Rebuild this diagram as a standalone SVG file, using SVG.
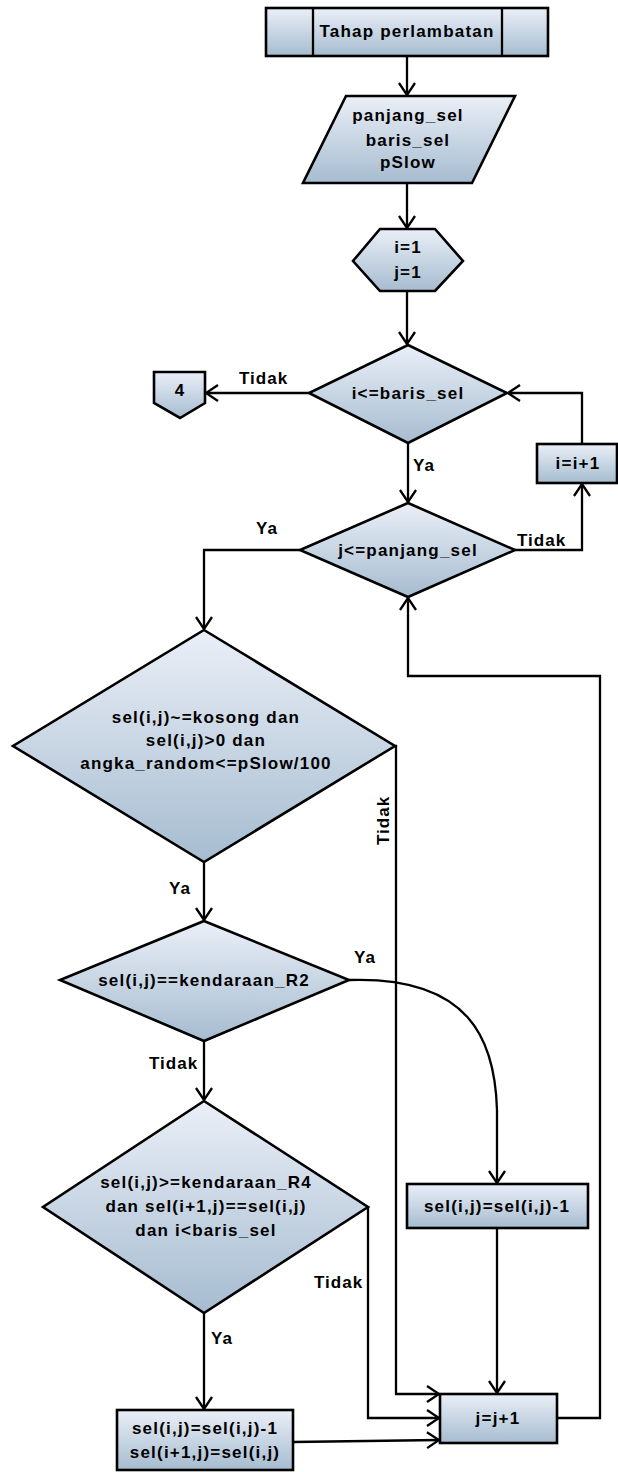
<svg xmlns="http://www.w3.org/2000/svg" width="618" height="1472" viewBox="0 0 618 1472">
  <style>
    .shape { fill: url(#fillGrad); stroke: #000; stroke-width: 2.6; }
    .line { fill: none; stroke: #000; stroke-width: 2.3; }
    .lbl { font-family: "Liberation Sans", Arial, sans-serif; font-weight: bold; font-size: 17px; letter-spacing: 1.2px; fill: #000; text-anchor: middle; }
    .tag { font-family: "Liberation Sans", Arial, sans-serif; font-weight: bold; font-size: 17px; letter-spacing: 1px; fill: #000; }
  </style>
  <defs>
    <linearGradient id="fillGrad" x1="0" y1="0" x2="0" y2="1">
      <stop offset="0" stop-color="#eaeff7"/>
      <stop offset="1" stop-color="#a6bcd0"/>
    </linearGradient>
    <marker id="arrow" viewBox="-14 -10 16 20" refX="0" refY="0" markerWidth="16" markerHeight="20" markerUnits="userSpaceOnUse" orient="auto">
      <path d="M-12,-8 L0,0 L-12,8" fill="none" stroke="#000" stroke-width="2.3"/>
    </marker>
  </defs>

  <rect width="618" height="1472" fill="#fff"/>

  <!-- connectors -->
  <g id="connectors">
    <path class="line" d="M407,56 L407,95" marker-end="url(#arrow)"/>
    <path class="line" d="M407,183 L407,228" marker-end="url(#arrow)"/>
    <path class="line" d="M407,291 L407,344" marker-end="url(#arrow)"/>
    <path class="line" d="M309,393 L206,393" marker-end="url(#arrow)"/>
    <path class="line" d="M408,443 L408,502" marker-end="url(#arrow)"/>
    <path class="line" d="M582,444 L582,393 L508,393" marker-end="url(#arrow)"/>
    <path class="line" d="M515,550 L582,550 L582,484" marker-end="url(#arrow)"/>
    <path class="line" d="M300,550 L204,550 L204,629" marker-end="url(#arrow)"/>
    <path class="line" d="M204,862 L204,920" marker-end="url(#arrow)"/>
    <path class="line" d="M395,746 L396,746 L396,1394 L439,1394" marker-end="url(#arrow)"/>
    <path class="line" d="M349,980 C470,976 495,1040 497,1110 L497,1183" marker-end="url(#arrow)"/>
    <path class="line" d="M204,1041 L204,1100" marker-end="url(#arrow)"/>
    <path class="line" d="M368,1207 L368,1418 L439,1418" marker-end="url(#arrow)"/>
    <path class="line" d="M497,1228 L497,1393" marker-end="url(#arrow)"/>
    <path class="line" d="M204,1313 L204,1409" marker-end="url(#arrow)"/>
    <path class="line" d="M293,1442 L439,1440" marker-end="url(#arrow)"/>
    <path class="line" d="M557,1418 L600,1418 L600,676 L408,676 L408,598" marker-end="url(#arrow)"/>

    <text class="tag" x="239" y="384">Tidak</text>
    <text class="tag" x="413" y="471">Ya</text>
    <text class="tag" x="517" y="546">Tidak</text>
    <text class="tag" x="256" y="534">Ya</text>
    <text class="tag" x="389" y="845" transform="rotate(-90 389 845)">Tidak</text>
    <text class="tag" x="169" y="894">Ya</text>
    <text class="tag" x="354" y="963">Ya</text>
    <text class="tag" x="149" y="1069">Tidak</text>
    <text class="tag" x="314" y="1288">Tidak</text>
    <text class="tag" x="211" y="1344">Ya</text>
  </g>

  <!-- start: predefined process -->
  <g id="start">
    <rect class="shape" x="266" y="8" width="282" height="48"/>
    <line class="line" x1="313" y1="8" x2="313" y2="56" stroke-width="2.6"/>
    <line class="line" x1="502" y1="8" x2="502" y2="56" stroke-width="2.6"/>
    <text class="lbl" x="407" y="37">Tahap perlambatan</text>
  </g>

  <!-- input parameters -->
  <g id="input">
    <polygon class="shape" points="346,96 515,96 472,183 303,183"/>
    <text class="lbl" x="408" y="121">panjang_sel</text>
    <text class="lbl" x="408" y="146">baris_sel</text>
    <text class="lbl" x="408" y="168">pSlow</text>
  </g>

  <!-- initialisation -->
  <g id="init">
    <polygon class="shape" points="380,229 435,229 463,261 435,291 380,291 353,261"/>
    <text class="lbl" x="408" y="253">i=1</text>
    <text class="lbl" x="408" y="278">j=1</text>
  </g>

  <!-- row loop check -->
  <g id="check-i">
    <polygon class="shape" points="408,345 507,393 408,443 309,393"/>
    <text class="lbl" x="408" y="399">i&lt;=baris_sel</text>
  </g>

  <!-- off-page connector -->
  <g id="connector-4">
    <polygon class="shape" points="154,372 205,372 205,403 180,418 154,403"/>
    <text class="lbl" x="180" y="396">4</text>
  </g>

  <!-- row increment -->
  <g id="inc-i">
    <rect class="shape" x="537" y="444" width="80" height="39"/>
    <text class="lbl" x="578" y="469">i=i+1</text>
  </g>

  <!-- column loop check -->
  <g id="check-j">
    <polygon class="shape" points="408,503 515,550 408,597 300,550"/>
    <text class="lbl" x="408" y="556">j&lt;=panjang_sel</text>
  </g>

  <!-- slowdown condition -->
  <g id="check-slow">
    <polygon class="shape" points="204,630 395,746 204,862 13,746"/>
    <text class="lbl" x="206" y="723">sel(i,j)~=kosong dan</text>
    <text class="lbl" x="206" y="746">sel(i,j)&gt;0 dan</text>
    <text class="lbl" x="206" y="769">angka_random&lt;=pSlow/100</text>
  </g>

  <!-- vehicle type R2 check -->
  <g id="check-r2">
    <polygon class="shape" points="204,921 349,980 204,1041 60,980"/>
    <text class="lbl" x="204" y="986">sel(i,j)==kendaraan_R2</text>
  </g>

  <!-- vehicle type R4 check -->
  <g id="check-r4">
    <polygon class="shape" points="204,1101 368,1207 204,1313 43,1207"/>
    <text class="lbl" x="206" y="1188">sel(i,j)&gt;=kendaraan_R4</text>
    <text class="lbl" x="206" y="1212">dan sel(i+1,j)==sel(i,j)</text>
    <text class="lbl" x="206" y="1236">dan i&lt;baris_sel</text>
  </g>

  <!-- single-cell decrement -->
  <g id="dec-one">
    <rect class="shape" x="407" y="1184" width="181" height="44"/>
    <text class="lbl" x="497" y="1212">sel(i,j)=sel(i,j)-1</text>
  </g>

  <!-- two-cell decrement -->
  <g id="dec-two">
    <rect class="shape" x="117" y="1410" width="176" height="60"/>
    <text class="lbl" x="205" y="1434">sel(i,j)=sel(i,j)-1</text>
    <text class="lbl" x="205" y="1458">sel(i+1,j)=sel(i,j)</text>
  </g>

  <!-- column increment -->
  <g id="inc-j">
    <rect class="shape" x="440" y="1394" width="117" height="49"/>
    <text class="lbl" x="498" y="1424">j=j+1</text>
  </g>
</svg>
